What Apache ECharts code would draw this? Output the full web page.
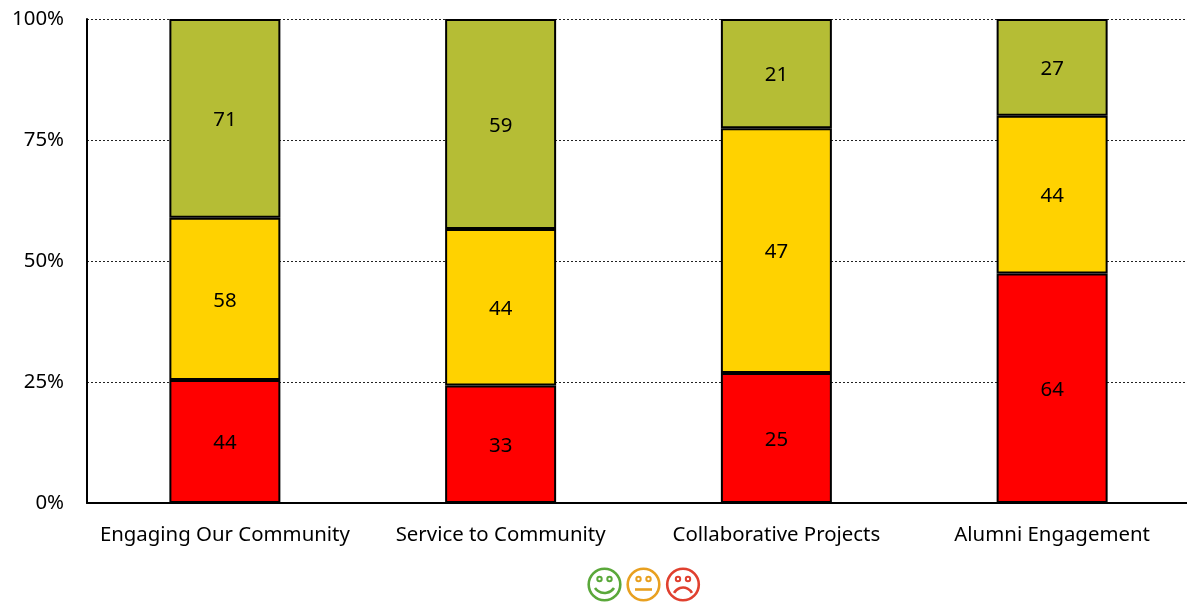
<!DOCTYPE html>
<html>
<head>
<meta charset="utf-8">
<title>Stacked bars</title>
<style>
html, body { margin: 0; padding: 0; background: #fff; }
#main { width: 1187px; height: 603px; }
</style>
<script src="https://cdn.jsdelivr.net/npm/echarts@6/dist/echarts.min.js"></script>
</head>
<body>
<div id="main"></div>
<script>
var categories = ['Engaging Our Community', 'Service to Community', 'Collaborative Projects', 'Alumni Engagement'];
var redValues = [44, 33, 25, 64];
var yellowValues = [58, 44, 47, 44];
var greenValues = [71, 59, 21, 27];
var tickFont = 'Noto Sans';
var tickSize = 20.4;

var myChart = echarts.init(document.getElementById('main'));

// percent of each bar's total, labels still show the counts
function percent(values) {
	return values.map(function (v, i) {
		return v / (redValues[i] + yellowValues[i] + greenValues[i]) * 100;
	});
}

function makeSeries(name, values, color) {
	return {
		name: name,
		type: 'bar',
		stack: 'total',
		barWidth: 111,
		data: percent(values),
		itemStyle: { color: color, borderColor: '#000', borderWidth: 2 },
		label: {
			show: true,
			position: 'inside',
			offset: [0, 2],
			color: '#000',
			fontFamily: tickFont,
			fontSize: tickSize,
			formatter: function (p) { return values[p.dataIndex]; }
		}
	};
}

// the three faces under the chart
function face(cx, cy, color, mouth) {
	var line = { stroke: color, lineWidth: 2.6, fill: null };
	var thin = { stroke: color, lineWidth: 2, fill: null };
	var parts = [
		{ type: 'circle', shape: { cx: cx, cy: cy, r: 15.8 }, style: line },
		{ type: 'circle', shape: { cx: cx - 5, cy: cy - 5.5, r: 2.2 }, style: thin },
		{ type: 'circle', shape: { cx: cx + 5, cy: cy - 5.5, r: 2.2 }, style: thin }
	];
	if (mouth === 'smile') {
		parts.push({ type: 'arc', shape: { cx: cx, cy: cy - 3, r: 11.5, startAngle: 0.19 * Math.PI, endAngle: 0.81 * Math.PI }, style: line });
	} else if (mouth === 'flat') {
		parts.push({ type: 'line', shape: { x1: cx - 8.5, y1: cy + 5, x2: cx + 8.5, y2: cy + 5 }, style: line });
	} else {
		parts.push({ type: 'arc', shape: { cx: cx, cy: cy + 13, r: 10, startAngle: 1.15 * Math.PI, endAngle: 1.85 * Math.PI }, style: line });
	}
	return parts;
}

var option = {
	animation: false,
	backgroundColor: '#fff',
	grid: { left: 87, width: 1103, top: 19, bottom: 100, outerBoundsMode: 'none' },
	xAxis: {
		type: 'category',
		data: categories,
		axisLine: { show: true, lineStyle: { color: '#000', width: 2 } },
		axisTick: { show: false },
		axisLabel: { color: '#000', fontFamily: tickFont, fontSize: tickSize, margin: 22, interval: 0 }
	},
	yAxis: {
		type: 'value',
		min: 0,
		max: 100,
		interval: 25,
		axisLine: { show: true, lineStyle: { color: '#000', width: 2 } },
		axisTick: { show: false },
		axisLabel: { color: '#000', fontFamily: tickFont, fontSize: tickSize, margin: 23, padding: [2, 0, 0, 0], formatter: '{value}%' },
		splitLine: { show: true, lineStyle: { color: '#222', width: 1, type: [2, 2] } }
	},
	series: [
		makeSeries('Red', redValues, '#ff0000'),
		makeSeries('Yellow', yellowValues, '#ffd200'),
		makeSeries('Green', greenValues, '#b5bd35')
	],
	graphic: [].concat(
		face(604.5, 584.5, '#5aa83a', 'smile'),
		face(643.5, 584.5, '#e8a020', 'flat'),
		face(683, 584.5, '#e0402f', 'frown')
	)
};

myChart.setOption(option);
</script>
</body>
</html>
